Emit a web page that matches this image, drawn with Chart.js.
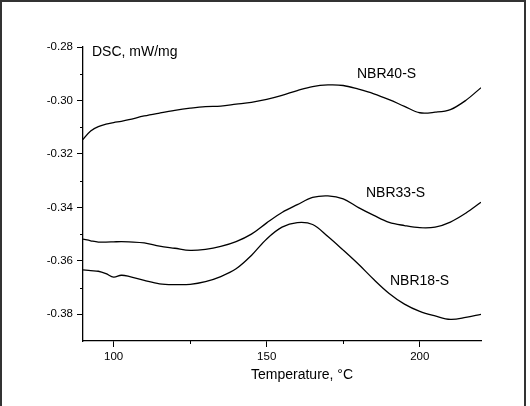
<!DOCTYPE html>
<html>
<head>
<meta charset="utf-8">
<script src="https://cdn.jsdelivr.net/npm/chart.js@4.4.1/dist/chart.umd.min.js"></script>
<style>
  body { margin: 0; background: #fff; }
  #wrap { width: 530px; height: 406px; }
</style>
</head>
<body>
<div id="wrap"><canvas id="dsc-chart"></canvas></div>
<script>
// temperature, °C
var temperature = [90, 92.5, 95, 97.5, 100, 102.5, 105, 110, 115, 120, 125, 130, 135, 140, 145,
    150, 155, 160, 165, 170, 175, 180, 185, 190, 195, 200, 205, 210, 215, 220];

// DSC, mW/mg
var nbr40 = [-0.3146, -0.3114, -0.3098, -0.3089, -0.3083, -0.3078, -0.3072, -0.3058, -0.3047, -0.3037,
    -0.3029, -0.3023, -0.3021, -0.3014, -0.3007, -0.2996, -0.2981, -0.2963, -0.2948, -0.2942,
    -0.2944, -0.2958, -0.2975, -0.2997, -0.3022, -0.3046, -0.3044, -0.3034, -0.3000, -0.2952];
var nbr33 = [-0.3519, -0.3525, -0.3530, -0.3530, -0.3529, -0.3528, -0.3529, -0.3533, -0.3545, -0.3553,
    -0.3561, -0.3557, -0.3546, -0.3528, -0.3500, -0.3458, -0.3419, -0.3390, -0.3363, -0.3357,
    -0.3368, -0.3401, -0.3430, -0.3456, -0.3468, -0.3476, -0.3474, -0.3455, -0.3422, -0.3381];
var nbr18 = [-0.3634, -0.3637, -0.3639, -0.3648, -0.3661, -0.3654, -0.3658, -0.3673, -0.3686, -0.3689,
    -0.3688, -0.3678, -0.3659, -0.3630, -0.3580, -0.3518, -0.3474, -0.3457, -0.3464, -0.3509,
    -0.3560, -0.3613, -0.3670, -0.3722, -0.3762, -0.3789, -0.3806, -0.3819, -0.3812, -0.3800];

var xTicks = [100, 150, 200];
var xMinor = [125, 175];
var yTicks = [-0.38, -0.36, -0.34, -0.32, -0.30, -0.28];
var yMinor = [-0.37, -0.35, -0.33, -0.31, -0.29];

function pts(ys) {
    return ys.map(function (y, i) { return { x: temperature[i], y: y }; });
}

function line(label, ys) {
    return {
        label: label,
        data: pts(ys),
        borderColor: "#000",
        borderWidth: 1.3,
        pointRadius: 0,
        fill: false,
        tension: 0.35
    };
}

var font = "Liberation Sans, Arial, sans-serif";

// frame, minor ticks and the text labels
var extras = {
    id: "extras",
    beforeDraw: function (chart) {
        var c = chart.ctx;
        c.save();
        c.strokeStyle = "#333";
        c.lineWidth = 2;
        c.strokeRect(1, 1, 524, 430);
        c.restore();
    },
    afterDraw: function (chart) {
        var c = chart.ctx, xs = chart.scales.x, ys = chart.scales.y;
        var a = chart.chartArea;
        c.save();
        c.strokeStyle = "#000";
        c.lineWidth = 1;
        xMinor.forEach(function (v) {
            var px = Math.round(xs.getPixelForValue(v)) + 0.5;
            c.beginPath(); c.moveTo(px, a.bottom); c.lineTo(px, a.bottom + 3); c.stroke();
        });
        yMinor.forEach(function (v) {
            var py = Math.round(ys.getPixelForValue(v)) + 0.5;
            c.beginPath(); c.moveTo(a.left, py); c.lineTo(a.left - 3, py); c.stroke();
        });
        c.fillStyle = "#000";
        c.textBaseline = "middle";
        c.textAlign = "left";
        c.font = "14px " + font;
        c.fillText("DSC, mW/mg", 92, 52);
        c.fillText("NBR40-S", 357, 74);
        c.fillText("NBR33-S", 366, 193);
        c.fillText("NBR18-S", 390, 281);
        c.fillText("Temperature, \u00B0C", 251, 375);
        c.restore();
    }
};

var ctx = document.getElementById("dsc-chart").getContext("2d");
var dscChart = new Chart(ctx, {
    type: "line",
    data: {
        datasets: [line("NBR40-S", nbr40), line("NBR33-S", nbr33), line("NBR18-S", nbr18)]
    },
    options: {
        responsive: true,
        maintainAspectRatio: false,
        animation: false,
        layout: { padding: { top: 47, right: 49, left: 0, bottom: 0 } },
        plugins: { legend: { display: false }, tooltip: { enabled: false } },
        scales: {
            x: {
                type: "linear",
                min: 90,
                max: 220,
                afterBuildTicks: function (s) { s.ticks = xTicks.map(function (v) { return { value: v }; }); },
                afterFit: function (s) { s.height = 65; },
                ticks: { color: "#000", font: { size: 11.5, family: font }, padding: 3, maxRotation: 0 },
                grid: { drawOnChartArea: false, drawTicks: true, tickLength: 6, color: "#000" },
                border: { color: "#000", width: 1.3 }
            },
            y: {
                min: -0.39,
                max: -0.28,
                afterBuildTicks: function (s) { s.ticks = yTicks.map(function (v) { return { value: v }; }); },
                afterFit: function (s) { s.width = 83; },
                ticks: {
                    color: "#000",
                    font: { size: 11.5, family: font },
                    padding: 4,
                    callback: function (v) { return v.toFixed(2); }
                },
                grid: { drawOnChartArea: false, drawTicks: true, tickLength: 6, color: "#000" },
                border: { color: "#000", width: 1.3 }
            }
        }
    },
    plugins: [extras]
});
</script>
</body>
</html>
